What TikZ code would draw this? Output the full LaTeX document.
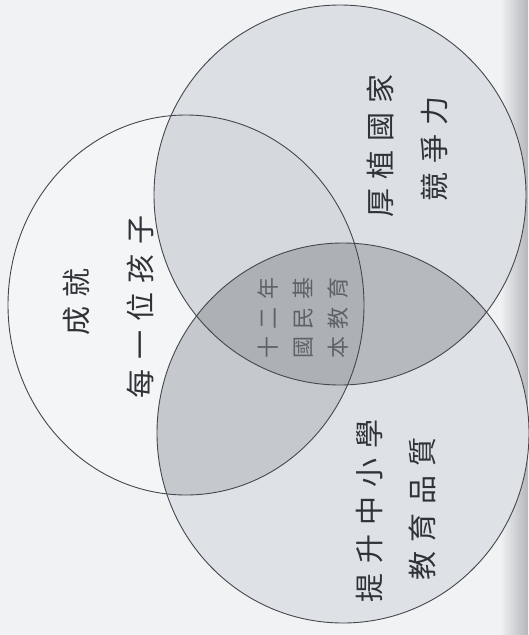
\documentclass[tikz,border=0pt]{standalone}
\usepackage{fontspec}
\newfontfamily\cjkbig[LetterSpace=32]{Noto Sans CJK TC}
\newfontfamily\cjksmall[LetterSpace=34]{Noto Sans CJK TC}
\definecolor{bg}{HTML}{F1F2F4}
\definecolor{gutter}{HTML}{B4B6B9}
\definecolor{cleft}{HTML}{F4F5F6}
\definecolor{ctop}{HTML}{DCDFE4}
\definecolor{cbot}{HTML}{DEE1E6}
\definecolor{clt}{HTML}{D5D8DD}
\definecolor{clb}{HTML}{C5C8CD}
\definecolor{ctb}{HTML}{B6B9BE}
\definecolor{call}{HTML}{ADB0B5}
\definecolor{ink}{HTML}{2F3236}
\definecolor{inklight}{HTML}{5E6166}
\definecolor{rim}{HTML}{44474B}
\tikzset{
  rimline/.style={draw=rim, line width=0.9pt},
  bigtext/.style={text=ink, font=\cjkbig\fontsize{29}{29}\selectfont, rotate=90, inner sep=0pt},
  smalltext/.style={text=inklight, font=\cjksmall\fontsize{22}{22}\selectfont, rotate=90, inner sep=0pt}
}
\begin{document}
\begin{tikzpicture}[x=1pt,y=-1pt]
\useasboundingbox (0,0) rectangle (528,635);
\fill[bg] (0,0) rectangle (528,635);
\shade[left color=bg, right color=gutter] (500,0) rectangle (528,635);
\def\CL{(186,305) ellipse [x radius=178, y radius=190]}
\def\CT{(340,195) ellipse [x radius=186, y radius=190]}
\def\CB{(343,433) ellipse [x radius=186, y radius=190]}
\fill[cleft] \CL;
\fill[ctop] \CT;
\fill[cbot] \CB;
\begin{scope}
  \clip \CL;
  \fill[clt] \CT;
  \fill[clb] \CB;
\end{scope}
\begin{scope}
  \clip \CT;
  \fill[ctb] \CB;
  \clip \CL;
  \fill[call] \CB;
\end{scope}
\draw[rimline] \CL;
\draw[rimline] \CT;
\draw[rimline] \CB;
% texts
\node[bigtext] (l1) at (77,302) {成就};
\node[bigtext] (l2) at (140,307) {每一位孩子};
\node[bigtext] (t1) at (380,146) {厚植國家};
\node[bigtext] (t2) at (434,149) {競爭力};
\node[bigtext] (b1) at (370,511) {提升中小學};
\node[bigtext] (b2) at (422,509) {教育品質};
\node[smalltext] (c1) at (268,318) {十二年};
\node[smalltext] (c2) at (303,318) {國民基};
\node[smalltext] (c3) at (338,318) {本教育};
\end{tikzpicture}
\end{document}
